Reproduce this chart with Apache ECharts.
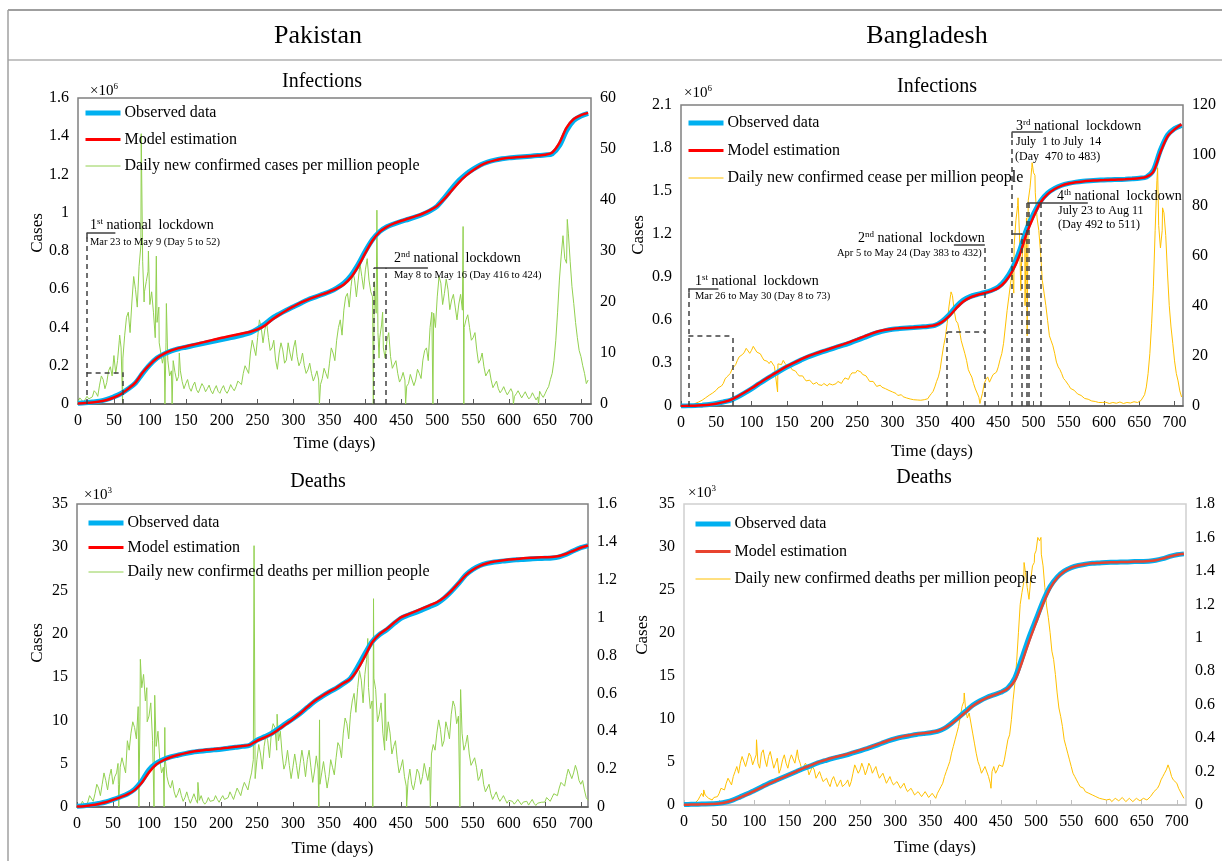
<!DOCTYPE html>
<html>
<head>
<meta charset="utf-8">
<title>COVID-19 lockdowns: Pakistan and Bangladesh</title>
<script src="https://cdn.jsdelivr.net/npm/echarts@6/dist/echarts.min.js"></script>
<style>
  html, body { margin: 0; padding: 0; background: #fff; }
  #chart { width: 1222px; height: 861px; }
</style>
</head>
<body>
<div id="chart"></div>
<script>
// ---------------- data ----------------
// cumulative series are sampled every 10 days (day 0 .. 710)
const CUM_STEP = 10;
// daily series: values every 5 days (day 0 .. 710), the in-between readings
// (day 2.5, 7.5, ...) that carry the day-to-day jitter, and single-day spikes/dips
const DAILY_STEP = 5;

const seriesNames = ['Observed data', 'Model estimation'];
const dailyNames = [
  'Daily new confirmed cases per million people',
  'Daily new confirmed cease per million people',
  'Daily new confirmed deaths per million people',
  'Daily new confirmed deaths per million people'
];

// Pakistan, infections (x10^6)
const pakCasesObs = [0.004,0.006,0.010,0.015,0.024,0.038,0.055,0.080,0.110,0.160,0.205,0.240,0.262,0.278,0.289,0.297,0.305,0.313,0.321,0.329,0.337,0.345,0.353,0.362,0.373,0.393,0.418,0.448,0.470,0.490,0.508,0.527,0.545,0.559,0.573,0.587,0.606,0.632,0.672,0.730,0.800,0.860,0.902,0.927,0.942,0.955,0.966,0.978,0.992,1.010,1.035,1.078,1.125,1.168,1.202,1.228,1.250,1.265,1.275,1.282,1.287,1.290,1.293,1.296,1.299,1.302,1.308,1.350,1.430,1.482,1.506,1.520];
const pakCasesModel = [0.003,0.005,0.008,0.013,0.021,0.034,0.052,0.080,0.112,0.165,0.206,0.240,0.263,0.280,0.292,0.301,0.310,0.319,0.328,0.337,0.346,0.354,0.362,0.370,0.378,0.390,0.410,0.440,0.466,0.489,0.510,0.530,0.546,0.560,0.573,0.587,0.603,0.625,0.662,0.720,0.790,0.855,0.900,0.926,0.944,0.958,0.970,0.982,0.996,1.014,1.036,1.072,1.115,1.158,1.194,1.222,1.246,1.263,1.274,1.282,1.287,1.290,1.293,1.296,1.299,1.303,1.315,1.365,1.445,1.490,1.510,1.522];
const pakCasesDaily = [
  0.5, 0.8, 0.6, 1.0, 1.4, 2.2, 3.7, 4.8, 4.2, 7.3,
  9.5, 8.5, 11, 13.5, 18, 20, 22.5, 27, 28, 24,
  19.5, 18, 16, 12, 10, 8.6, 6.5, 6.2, 5.4, 4.4,
  4.0, 3.2, 3.6, 2.8, 3.1, 3.4, 3.0, 2.6, 2.9, 2.5,
  3.0, 2.6, 2.8, 3.1, 3.4, 4.7, 6.0, 7.3, 10, 11,
  13, 15, 14.5, 13, 11, 8.6, 10, 10.6, 8.6, 10,
  11, 9.3, 8.3, 7.5, 6.7, 6.0, 5.4, 4.7, 5.0, 6.0,
  8.0, 10, 12.5, 16.5, 18.4, 21.7, 23, 24.3, 24.3, 25,
  26.3, 24.3, 21, 17.8, 13, 11, 12.5, 9.3, 7.3, 6,
  5, 4.7, 4, 4.7, 4.7, 6, 8.6, 11, 15, 17.8,
  21, 23.7, 21.7, 22.4, 20.4, 19, 19.6, 18.4, 16.5, 15,
  13, 10.6, 8.6, 7.3, 5.7, 4.7, 3.4, 3.0, 2.7, 2.5,
  2.4, 2.2, 2.0, 1.9, 1.8, 1.6, 1.4, 1.5, 1.4, 1.8,
  2, 3.4, 6, 12.5, 24.3, 33, 27.6, 28, 19.7, 13,
  9.3, 6, 4.7
];
const pakCasesMid = [
  1.2, 0.3, 1.5, 0.7, 2.6, 1.5, 5.5, 3.0, 6.5, 5.5,
  6.0, 12.5, 9.0, 17, 14, 25, 19, 31, 22, 26,
  22, 13, 19, 8, 12, 5.5, 8.5, 4.5, 6.5, 3.0,
  4.8, 2.5, 4.3, 2.2, 4.0, 2.4, 3.7, 2.0, 3.6, 2.1,
  3.6, 2.1, 3.8, 2.6, 4.5, 3.8, 7.5, 6.0, 12.5, 9.5,
  16.5, 12, 16, 10.5, 12.5, 6.8, 12, 8, 12, 8.5,
  12.5, 7.5, 10, 6, 8, 4.5, 6.5, 3.8, 7, 5,
  11, 8.5, 15, 13.5, 21, 19, 26, 21, 27.5, 22.5,
  28.5, 22, 24, 14, 15.5, 9, 14, 7, 8.5, 4.3,
  6.2, 3.5, 5.8, 3.6, 6.8, 5, 10.5, 8.5, 18, 15,
  25, 19.5, 24.5, 18.5, 21.5, 16.5, 21.5, 15, 17.5, 12.5,
  14, 8, 10, 5.5, 6.8, 3.2, 4.5, 2.2, 3.4, 1.8,
  3.0, 1.5, 2.6, 1.2, 2.4, 1.0, 2.2, 0.8, 2.5, 1.3,
  2.8, 4.8, 8.5, 18, 29, 28.5, 33.5, 23, 16, 10.5,
  7.5, 4.0
];
const pakCasesSpikes = [[58,13.5],[62,0.3],[88,53],[92,20],[98,30],[109,29],[113,12],[121,0],[123,19.7],[131,0],[141,10],[336,0],[411,0],[416,38],[419,9],[424,18],[456,0],[494,0],[536,34.8],[537,0],[606,0],[641,0],[681,36.2]];

// Bangladesh, infections (x10^6)
const bdCasesObs = [0.000,0.001,0.003,0.006,0.010,0.017,0.028,0.040,0.062,0.090,0.120,0.152,0.184,0.214,0.244,0.272,0.297,0.320,0.342,0.360,0.377,0.393,0.409,0.424,0.441,0.459,0.478,0.498,0.514,0.526,0.535,0.540,0.544,0.547,0.551,0.555,0.562,0.590,0.635,0.692,0.737,0.763,0.778,0.790,0.806,0.830,0.880,0.960,1.080,1.230,1.340,1.430,1.485,1.518,1.540,1.553,1.562,1.568,1.572,1.575,1.577,1.579,1.580,1.582,1.585,1.589,1.597,1.646,1.786,1.890,1.935,1.958];
const bdCasesModel = [0.000,0.001,0.002,0.005,0.009,0.016,0.027,0.042,0.066,0.094,0.124,0.156,0.188,0.218,0.248,0.276,0.301,0.325,0.347,0.365,0.382,0.398,0.414,0.430,0.447,0.466,0.486,0.505,0.521,0.532,0.538,0.542,0.545,0.548,0.551,0.555,0.563,0.585,0.625,0.680,0.728,0.757,0.774,0.787,0.802,0.824,0.868,0.940,1.050,1.200,1.320,1.420,1.478,1.514,1.538,1.552,1.561,1.567,1.571,1.574,1.576,1.578,1.580,1.582,1.585,1.589,1.598,1.635,1.770,1.880,1.930,1.965];
const bdCasesDaily = [
  0, 0, 0.2, 0.3, 1.0, 1.6, 2.3, 3.3, 4.3, 5.2,
  6.3, 7.5, 9, 11.6, 13, 15.6, 18.2, 20.2, 21.5, 22.9,
  22.2, 23.5, 21, 19.5, 18.2, 16.9, 17.5, 15.6, 16.2, 18.2,
  16.2, 15.6, 14.2, 12.9, 12.2, 10.9, 10.2, 9.5, 8.9, 8.5,
  8.2, 8.6, 8.9, 8.4, 8.9, 9.5, 10.2, 11, 12.2, 13.6,
  14.2, 13.6, 12.2, 10.9, 9.6, 8.8, 8.2, 7.5, 6.9, 6.2,
  5.6, 5.0, 4.3, 3.7, 3.2, 2.8, 2.5, 2.4, 2.3, 2.5,
  2.9, 4.9, 7.6, 11.6, 19.5, 27.5, 39.5, 44, 34, 30,
  23.5, 18.2, 12.9, 8.9, 6.3, 2.3, 8.9, 11.6, 10.2, 12.9,
  15.6, 20.9, 31.5, 43.5, 54, 74, 68.8, 63, 75, 87,
  93, 75, 61, 45, 34, 26, 21, 15.6, 12.9, 10.2,
  8.2, 6.8, 5.6, 4.5, 3.6, 2.9, 2.3, 1.9, 1.6, 1.4,
  1.2, 1.3, 1.2, 1.5, 1.3, 1.4, 1.2, 1.5, 1.4, 1.6,
  1.8, 2.9, 7.6, 21, 47.5, 90, 63, 77, 53, 31.5,
  18, 10, 3.6
];
const bdCasesMid = [
  0, 0.1, 0.4, 0.5, 1.5, 1.8, 3.0, 3.6, 5.0, 5.6,
  7.2, 8.0, 10.8, 12.0, 14.8, 16.5, 19.6, 20.6, 23.0, 21.0,
  23.8, 21.5, 20.8, 18.3, 17.8, 17.9, 15.8, 16.8, 16.5, 17.0,
  16.8, 14.5, 13.9, 12.0, 12.0, 10.0, 10.3, 8.7, 9.4, 7.8,
  9.0, 8.0, 9.4, 8.0, 9.8, 9.0, 11.2, 10.6, 13.2, 13.2,
  14.8, 12.6, 12.0, 9.8, 9.8, 7.8, 8.3, 6.8, 7.0, 5.5,
  5.8, 4.2, 4.5, 3.1, 3.4, 2.4, 2.8, 2.0, 2.6, 2.3,
  4.0, 5.8, 9.8, 14.5, 24, 33, 44.5, 38, 33, 26,
  21, 14.5, 11.5, 6.8, 3.5, 5.0, 10.5, 9.5, 12.5, 13.5,
  18.5, 25, 38, 49, 64, 80, 55, 70, 82, 95,
  85, 70, 50, 40, 28, 24, 17.5, 14.5, 11.0, 9.5,
  7.0, 6.3, 4.8, 4.2, 3.0, 2.7, 2.0, 1.8, 1.4, 1.4,
  1.5, 1.0, 1.4, 1.1, 1.6, 1.0, 1.4, 1.2, 1.7, 1.4,
  2.2, 4.5, 13, 33, 70, 72, 70, 68, 40, 25,
  13, 6
];
const bdCasesSpikes = [[103,24.5],[137,5.6],[383,45.5],[424,1],[472,45],[478,83],[482,46],[488,40],[491,28],[498,97],[502,92],[676,95],[683,79]];

// Pakistan, deaths (x10^3)
const pakDeathsObs = [0.10,0.15,0.25,0.40,0.58,0.85,1.16,1.50,2.05,3.00,4.30,5.05,5.48,5.78,5.98,6.17,6.33,6.43,6.52,6.60,6.68,6.78,6.90,7.00,7.14,7.72,8.10,8.49,9.05,9.65,10.20,10.80,11.50,12.20,12.75,13.25,13.70,14.25,14.86,16.20,17.70,19.10,19.90,20.45,21.15,21.80,22.15,22.45,22.80,23.15,23.50,24.10,24.90,25.80,26.80,27.45,27.90,28.15,28.30,28.40,28.48,28.55,28.60,28.65,28.70,28.72,28.75,28.90,29.20,29.60,29.95,30.20];
const pakDeathsModel = [0.05,0.10,0.20,0.35,0.55,0.82,1.12,1.45,1.95,2.80,4.00,4.90,5.40,5.75,6.00,6.20,6.38,6.50,6.60,6.68,6.76,6.85,6.95,7.05,7.18,7.65,8.00,8.40,8.95,9.55,10.15,10.80,11.55,12.25,12.80,13.30,13.75,14.30,14.80,15.90,17.40,19.00,19.95,20.55,21.25,21.90,22.25,22.60,22.95,23.30,23.65,24.20,24.95,25.85,26.75,27.40,27.85,28.15,28.35,28.48,28.58,28.65,28.72,28.78,28.82,28.85,28.88,29.00,29.25,29.60,29.95,30.20];
const pakDeathsDaily = [
  0.01, 0.01, 0.015, 0.026, 0.05, 0.07, 0.1, 0.12, 0.14, 0.16,
  0.12, 0.18, 0.21, 0.25, 0.35, 0.39, 0.42, 0.53, 0.63, 0.56,
  0.48, 0.35, 0.32, 0.25, 0.21, 0.16, 0.1, 0.08, 0.07, 0.06,
  0.05, 0.045, 0.044, 0.04, 0.035, 0.03, 0.026, 0.03, 0.035, 0.04,
  0.044, 0.04, 0.05, 0.06, 0.07, 0.08, 0.1, 0.12, 0.14, 0.25,
  0.25, 0.28, 0.32, 0.35, 0.39, 0.42, 0.35, 0.28, 0.23, 0.22,
  0.21, 0.22, 0.23, 0.24, 0.25, 0.21, 0.19, 0.2, 0.18, 0.17,
  0.16, 0.21, 0.26, 0.32, 0.39, 0.44, 0.49, 0.6, 0.63, 0.67,
  0.7, 0.63, 0.56, 0.62, 0.49, 0.39, 0.35, 0.39, 0.32, 0.25,
  0.21, 0.16, 0.14, 0.12, 0.14, 0.18, 0.16, 0.18, 0.21, 0.33,
  0.39, 0.41, 0.35, 0.41, 0.49, 0.53, 0.48, 0.39, 0.33, 0.28,
  0.23, 0.21, 0.16, 0.12, 0.09, 0.07, 0.06, 0.05, 0.044, 0.04,
  0.035, 0.03, 0.026, 0.03, 0.026, 0.03, 0.026, 0.02, 0.02, 0.025,
  0.026, 0.04, 0.05, 0.07, 0.1, 0.14, 0.16, 0.19, 0.18, 0.19,
  0.12, 0.09, 0.035
];
const pakDeathsMid = [
  0.0, 0.03, 0.0, 0.06, 0.03, 0.12, 0.06, 0.18, 0.09, 0.2,
  0.16, 0.12, 0.26, 0.18, 0.3, 0.45, 0.36, 0.48, 0.7, 0.45,
  0.55, 0.28, 0.4, 0.18, 0.26, 0.12, 0.14, 0.05, 0.1, 0.03,
  0.08, 0.02, 0.07, 0.02, 0.06, 0.015, 0.05, 0.02, 0.06, 0.025,
  0.06, 0.03, 0.08, 0.04, 0.1, 0.06, 0.13, 0.09, 0.18, 0.15,
  0.33, 0.2, 0.38, 0.26, 0.44, 0.3, 0.4, 0.2, 0.3, 0.15,
  0.28, 0.15, 0.3, 0.16, 0.3, 0.13, 0.27, 0.12, 0.24, 0.1,
  0.25, 0.17, 0.34, 0.26, 0.47, 0.36, 0.56, 0.5, 0.72, 0.55,
  0.78, 0.52, 0.68, 0.45, 0.55, 0.3, 0.45, 0.28, 0.35, 0.18,
  0.25, 0.11, 0.2, 0.09, 0.2, 0.12, 0.23, 0.14, 0.28, 0.3,
  0.46, 0.32, 0.45, 0.36, 0.56, 0.44, 0.5, 0.3, 0.38, 0.22,
  0.26, 0.14, 0.2, 0.08, 0.12, 0.04, 0.08, 0.03, 0.06, 0.02,
  0.045, 0.015, 0.04, 0.012, 0.035, 0.01, 0.04, 0.008, 0.03, 0.015,
  0.05, 0.03, 0.07, 0.06, 0.13, 0.11, 0.2, 0.15, 0.22, 0.14,
  0.14, 0.05
];
const pakDeathsSpikes = [[57,0.23],[58,0],[86,0],[88,0.78],[97,0.63],[107,0],[108,0.59],[121,0],[122,0.42],[168,0.13],[246,1.38],[278,0.49],[336,0],[337,0.46],[404,0.89],[411,0],[412,1.1],[428,0.6],[458,0],[491,0],[532,0],[533,0.62]];

// Bangladesh, deaths (x10^3)
const bdDeathsObs = [0.05,0.08,0.10,0.12,0.15,0.20,0.35,0.60,0.95,1.30,1.70,2.10,2.50,2.85,3.20,3.55,3.90,4.25,4.55,4.90,5.15,5.40,5.60,5.80,6.05,6.30,6.55,6.85,7.15,7.45,7.70,7.90,8.05,8.20,8.30,8.40,8.55,8.90,9.50,10.20,10.90,11.60,12.10,12.50,12.80,13.10,13.60,14.80,17.10,19.50,21.60,23.70,25.40,26.50,27.20,27.60,27.85,28.00,28.10,28.15,28.20,28.22,28.25,28.27,28.30,28.32,28.35,28.45,28.65,28.90,29.10,29.20];
const bdDeathsModel = [0.03,0.05,0.07,0.09,0.12,0.18,0.32,0.56,0.90,1.25,1.65,2.05,2.45,2.82,3.18,3.55,3.92,4.28,4.60,4.95,5.22,5.47,5.68,5.88,6.12,6.38,6.62,6.90,7.20,7.50,7.75,7.95,8.10,8.24,8.34,8.44,8.60,8.95,9.45,10.10,10.80,11.50,12.05,12.45,12.78,13.10,13.55,14.50,16.60,19.00,21.20,23.40,25.20,26.40,27.15,27.60,27.85,28.00,28.10,28.15,28.20,28.22,28.25,28.27,28.30,28.32,28.36,28.46,28.66,28.90,29.10,29.22];
const bdDeathsDaily = [
  0.005, 0.005, 0.01, 0.01, 0.03, 0.07, 0.06, 0.04, 0.03, 0.04,
  0.07, 0.11, 0.13, 0.15, 0.17, 0.23, 0.25, 0.28, 0.27, 0.29,
  0.27, 0.25, 0.31, 0.27, 0.29, 0.27, 0.25, 0.19, 0.27, 0.25,
  0.27, 0.29, 0.31, 0.25, 0.21, 0.23, 0.19, 0.21, 0.17, 0.17,
  0.15, 0.13, 0.15, 0.14, 0.13, 0.11, 0.13, 0.11, 0.19, 0.23,
  0.21, 0.22, 0.21, 0.23, 0.21, 0.19, 0.17, 0.16, 0.15, 0.14,
  0.13, 0.12, 0.11, 0.1, 0.09, 0.08, 0.07, 0.065, 0.06, 0.07,
  0.05, 0.06, 0.07, 0.11, 0.17, 0.23, 0.31, 0.39, 0.47, 0.59,
  0.57, 0.55, 0.43, 0.31, 0.23, 0.19, 0.23, 0.13, 0.23, 0.21,
  0.25, 0.27, 0.39, 0.51, 0.73, 1.03, 1.27, 1.39, 1.23, 1.43,
  1.52, 1.58, 1.43, 1.19, 1.03, 0.87, 0.67, 0.53, 0.39, 0.31,
  0.23, 0.17, 0.13, 0.11, 0.08, 0.07, 0.06, 0.05, 0.04, 0.035,
  0.03, 0.035, 0.03, 0.04, 0.03, 0.035, 0.03, 0.04, 0.03, 0.035,
  0.03, 0.035, 0.04, 0.06, 0.09, 0.12, 0.17, 0.21, 0.21, 0.15,
  0.13, 0.09, 0.04
];
const bdDeathsMid = [
  0.0, 0.012, 0.005, 0.02, 0.05, 0.05, 0.07, 0.03, 0.045, 0.05,
  0.1, 0.09, 0.16, 0.12, 0.2, 0.19, 0.29, 0.23, 0.31, 0.24,
  0.3, 0.22, 0.33, 0.23, 0.32, 0.22, 0.28, 0.22, 0.3, 0.22,
  0.3, 0.25, 0.28, 0.21, 0.25, 0.18, 0.23, 0.16, 0.2, 0.14,
  0.16, 0.11, 0.17, 0.11, 0.15, 0.1, 0.15, 0.14, 0.24, 0.19,
  0.25, 0.18, 0.25, 0.19, 0.23, 0.16, 0.19, 0.13, 0.17, 0.12,
  0.14, 0.1, 0.13, 0.08, 0.1, 0.06, 0.08, 0.05, 0.08, 0.045,
  0.07, 0.04, 0.09, 0.13, 0.2, 0.26, 0.35, 0.43, 0.53, 0.62,
  0.52, 0.49, 0.37, 0.26, 0.19, 0.23, 0.17, 0.2, 0.19, 0.24,
  0.23, 0.33, 0.42, 0.63, 0.86, 1.2, 1.33, 1.3, 1.35, 1.45,
  1.6, 1.5, 1.3, 1.12, 0.92, 0.78, 0.58, 0.47, 0.35, 0.27,
  0.19, 0.15, 0.11, 0.1, 0.07, 0.065, 0.05, 0.045, 0.035, 0.03,
  0.035, 0.02, 0.04, 0.025, 0.045, 0.02, 0.04, 0.02, 0.04, 0.025,
  0.04, 0.03, 0.05, 0.08, 0.1, 0.15, 0.19, 0.24, 0.17, 0.14,
  0.1, 0.06
];
const bdDeathsSpikes = [[28,0.09],[103,0.39],[161,0.33],[398,0.67],[436,0.1],[483,1.45],[498,1.5],[503,1.6],[507,1.6],[688,0.25]];

// lockdown periods, drawn as [day1, value1, day2, value2] segments on the left axis
const pakLockDashed = [[12,0,12,0.87],[12,0.166,62,0.166],[62,0,62,0.166],[412,0,412,0.713],[429,0,429,0.713]];
const pakLockSolid = [[12,0.896,52,0.896],[12,0.896,12,0.865],[412,0.713,487,0.713]];
const bdLockDashed = [[10.5,0,10.5,0.79],[10.5,0.487,74,0.487],[74,0,74,0.487],[377.5,0,377.5,0.517],[377.5,0.517,431,0.517],[431,0,431,1.12],[469,0,469,1.87],[484,0,484,1.204],[491,0,491,1.418],[493.5,0,493.5,1.418],[510,0,510,1.418]];
const bdLockSolid = [[10.5,0.82,53,0.82],[10.5,0.82,10.5,0.79],[387,1.122,431,1.122],[469,1.91,513,1.91],[469,1.91,469,1.87],[469,1.204,484,1.204],[491,1.418,577,1.418]];

// ---------------- chart ----------------
const FONT = '"Liberation Serif", "Times New Roman", serif';
const pairs = (vals, step, offset) => vals.map((v, i) => [i * step + (offset || 0), v]);
const daily = (vals, mids, spikes) => pairs(vals, DAILY_STEP)
  .concat(pairs(mids, DAILY_STEP, DAILY_STEP / 2), spikes)
  .sort((a, b) => a[0] - b[0]);
const segs = list => list.map(s => ({ coords: [[s[0], s[1]], [s[2], s[3]]] }));

const panels = [
  { grid: { left: 78, top: 98, width: 513, height: 306 }, xMax: 714, yMax: 1.6, yInt: 0.2, rMax: 60, rInt: 10,
    obs: pakCasesObs, model: pakCasesModel, daily: daily(pakCasesDaily, pakCasesMid, pakCasesSpikes),
    dailyColor: '#92d050', modelColor: '#ff0000', box: '#808080', axis: '#595959',
    legend: { left: 83, top: 104, itemGap: 8.5 }, nameGap: 31, dashed: pakLockDashed, solid: pakLockSolid },
  { grid: { left: 681, top: 105, width: 502, height: 301 }, xMax: 712, yMax: 2.1, yInt: 0.3, rMax: 120, rInt: 20,
    obs: bdCasesObs, model: bdCasesModel, daily: daily(bdCasesDaily, bdCasesMid, bdCasesSpikes),
    dailyColor: '#ffc000', modelColor: '#ff0000', box: '#808080', axis: '#595959',
    legend: { left: 686, top: 114, itemGap: 9.5 }, nameGap: 37, dashed: bdLockDashed, solid: bdLockSolid },
  { grid: { left: 77, top: 504, width: 511, height: 303 }, xMax: 710, yMax: 35, yInt: 5, rMax: 1.6, rInt: 0.2,
    obs: pakDeathsObs, model: pakDeathsModel, daily: daily(pakDeathsDaily, pakDeathsMid, pakDeathsSpikes),
    dailyColor: '#92d050', modelColor: '#ff0000', box: '#808080', axis: '#595959',
    legend: { left: 86, top: 514, itemGap: 6.5 }, nameGap: 33, dashed: [], solid: [] },
  { grid: { left: 684, top: 504, width: 502, height: 301 }, xMax: 713, yMax: 35, yInt: 5, rMax: 1.8, rInt: 0.2,
    obs: bdDeathsObs, model: bdDeathsModel, daily: daily(bdDeathsDaily, bdDeathsMid, bdDeathsSpikes),
    dailyColor: '#ffc000', modelColor: '#e8432f', box: '#d0d0d0', axis: '#bfbfbf',
    legend: { left: 693, top: 515, itemGap: 9.5 }, nameGap: 34, dashed: [], solid: [] }
];

const tickLabel = { color: '#000', fontFamily: FONT, fontSize: 16 };
const grid = [], xAxis = [], yAxis = [], series = [], legend = [];

panels.forEach((p, i) => {
  grid.push(Object.assign({ show: true, borderColor: p.box, borderWidth: 1.5, containLabel: false }, p.grid));
  xAxis.push({
    gridIndex: i, type: 'value', min: 0, max: p.xMax, interval: 50,
    name: 'Time (days)', nameLocation: 'middle', nameGap: p.nameGap,
    nameTextStyle: { color: '#000', fontFamily: FONT, fontSize: 17 },
    axisLine: { show: true, lineStyle: { color: p.axis, width: 1.5 } },
    axisTick: { show: true, inside: true, length: 5, lineStyle: { color: p.axis, width: 1 } },
    axisLabel: Object.assign({ margin: 9, showMaxLabel: false, fontSize: 15 }, tickLabel),
    splitLine: { show: false }
  });
  yAxis.push({
    gridIndex: i, type: 'value', min: 0, max: p.yMax, interval: p.yInt, position: 'left',
    axisLine: { show: false }, axisTick: { show: false },
    axisLabel: Object.assign({ margin: 9 }, tickLabel), splitLine: { show: false }
  });
  yAxis.push({
    gridIndex: i, type: 'value', min: 0, max: p.rMax, interval: p.rInt, position: 'right',
    axisLine: { show: false }, axisTick: { show: false },
    axisLabel: Object.assign({ margin: 9 }, tickLabel), splitLine: { show: false }
  });

  const names = [seriesNames[0] + '#' + i, seriesNames[1] + '#' + i, dailyNames[i] + '#' + i];
  series.push({
    name: names[2], type: 'line', xAxisIndex: i, yAxisIndex: 2 * i + 1, data: p.daily,
    symbol: 'none', lineStyle: { color: p.dailyColor, width: 1 }, itemStyle: { color: p.dailyColor },
    animation: false, z: 2
  });
  series.push({
    name: names[0], type: 'line', xAxisIndex: i, yAxisIndex: 2 * i, data: pairs(p.obs, CUM_STEP),
    symbol: 'none', smooth: 0.3, lineStyle: { color: '#00b0f0', width: 5 }, itemStyle: { color: '#00b0f0' },
    animation: false, z: 3
  });
  series.push({
    name: names[1], type: 'line', xAxisIndex: i, yAxisIndex: 2 * i, data: pairs(p.model, CUM_STEP),
    symbol: 'none', smooth: 0.3, lineStyle: { color: p.modelColor, width: 2.5 }, itemStyle: { color: p.modelColor },
    animation: false, z: 4
  });
  if (p.dashed.length) {
    series.push({
      type: 'lines', coordinateSystem: 'cartesian2d', xAxisIndex: i, yAxisIndex: 2 * i, silent: true, z: 5,
      lineStyle: { color: '#404040', width: 1.5, type: [5, 4], opacity: 1, curveness: 0 }, data: segs(p.dashed), animation: false
    });
    series.push({
      type: 'lines', coordinateSystem: 'cartesian2d', xAxisIndex: i, yAxisIndex: 2 * i, silent: true, z: 5,
      lineStyle: { color: '#404040', width: 1.5, type: 'solid', opacity: 1, curveness: 0 }, data: segs(p.solid), animation: false
    });
  }
  legend.push({
    left: p.legend.left, top: p.legend.top, orient: 'vertical', itemGap: p.legend.itemGap,
    itemWidth: 35, itemHeight: 18, padding: 0, selectedMode: false,
    itemStyle: { opacity: 0 },
    data: [
      { name: names[0], lineStyle: { color: '#00b0f0', width: 5 } },
      { name: names[1], lineStyle: { color: p.modelColor, width: 3 } },
      { name: names[2], lineStyle: { color: p.dailyColor, width: 1 } }
    ],
    formatter: n => n.split('#')[0],
    textStyle: { color: '#000', fontFamily: FONT, fontSize: 16, lineHeight: 18, padding: [0, 0, 0, -1] }
  });
});

// ---------------- text and frame ----------------
function txt(x, y, text, size, opts) {
  opts = opts || {};
  const align = opts.align || 'left';
  return {
    type: 'text', x: x, y: y, rotation: opts.rotation || 0, silent: true, z: 10,
    style: {
      text: text, fill: '#000', font: size + 'px ' + FONT,
      align: align, textAlign: align, verticalAlign: 'middle', textVerticalAlign: 'middle',
      rich: opts.rich
    }
  };
}
function supRich(size) {
  return {
    n: { fontSize: size, fontFamily: FONT, fill: '#000', lineHeight: size + 2 },
    s: { fontSize: Math.round(size * 0.62), fontFamily: FONT, fill: '#000', verticalAlign: 'top', lineHeight: Math.round(size * 0.62) }
  };
}
const sup = (a, b, c, size, x, y) => txt(x, y, '{n|' + a + '}{s|' + b + '}{n|' + c + '}', size, { rich: supRich(size) });
const frameLine = (x1, y1, x2, y2, color) => ({
  type: 'line', silent: true, shape: { x1, y1, x2, y2 }, style: { stroke: color, lineWidth: 1.5 }
});

const graphic = [
  frameLine(8, 10, 1222, 10, '#7f7f7f'),
  frameLine(8, 60, 1222, 60, '#b0b0b0'),
  frameLine(8, 10, 8, 861, '#a0a0a0'),
  txt(318, 36, 'Pakistan', 26, { align: 'center' }),
  txt(927, 36, 'Bangladesh', 26, { align: 'center' }),
  txt(322, 82, 'Infections', 20, { align: 'center' }),
  txt(937, 87, 'Infections', 20, { align: 'center' }),
  txt(318, 482, 'Deaths', 20, { align: 'center' }),
  txt(924, 478, 'Deaths', 20, { align: 'center' }),
  sup('\u00d710', '6', '', 15, 90, 91),
  sup('\u00d710', '6', '', 15, 684, 93),
  sup('\u00d710', '3', '', 15, 84, 495),
  sup('\u00d710', '3', '', 15, 688, 493),
  txt(38, 233, 'Cases', 17, { align: 'center', rotation: Math.PI / 2 }),
  txt(639, 235, 'Cases', 17, { align: 'center', rotation: Math.PI / 2 }),
  txt(38, 643, 'Cases', 17, { align: 'center', rotation: Math.PI / 2 }),
  txt(643, 635, 'Cases', 17, { align: 'center', rotation: Math.PI / 2 }),
  // Pakistan lockdowns
  sup('1', 'st', ' national  lockdown', 14, 90, 225),
  txt(90, 242, 'Mar 23 to May 9 (Day 5 to 52)', 10.5),
  sup('2', 'nd', ' national  lockdown', 14, 394, 258),
  txt(394, 275, 'May 8 to May 16 (Day 416 to 424)', 10.5),
  // Bangladesh lockdowns
  sup('1', 'st', ' national  lockdown', 14, 695, 281),
  txt(695, 296, 'Mar 26 to May 30 (Day 8 to 73)', 10.5),
  sup('2', 'nd', ' national  lockdown', 14, 858, 238),
  txt(837, 253, 'Apr 5 to May 24 (Day 383 to 432)', 10.5),
  sup('3', 'rd', ' national  lockdown', 14, 1016, 126),
  txt(1016, 142, 'July  1 to July  14', 12),
  txt(1015, 157, '(Day  470 to 483)', 12),
  sup('4', 'th', ' national  lockdown', 14, 1057, 196.5),
  txt(1058, 211, 'July 23 to Aug 11', 12),
  txt(1058, 224.5, '(Day 492 to 511)', 12)
];

const chart = echarts.init(document.getElementById('chart'), null, { renderer: 'canvas' });
chart.setOption({
  backgroundColor: '#fff',
  animation: false,
  textStyle: { fontFamily: FONT },
  grid, xAxis, yAxis, series, legend, graphic
});
</script>
</body>
</html>
